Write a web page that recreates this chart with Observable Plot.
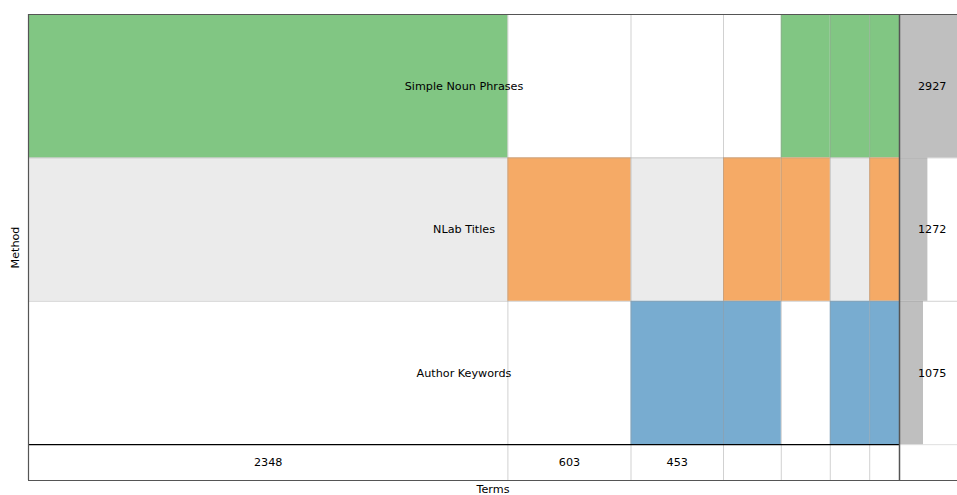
<!DOCTYPE html>
<html>
<head>
<meta charset="utf-8">
<script src="https://cdn.jsdelivr.net/npm/d3@7"></script>
<script src="https://cdn.jsdelivr.net/npm/@observablehq/plot@0.6"></script>
<style>
  html, body { margin: 0; padding: 0; background: white; overflow: hidden; }
  #chart svg { display: block; font-family: "DejaVu Sans", sans-serif; }
</style>
</head>
<body>
<div id="chart"></div>
<script>
// ---- data ----
const sets = ["Simple Noun Phrases", "NLab Titles", "Author Keywords"];
const setSizes = [2927, 1272, 1075];
const setColors = ["#81c683", "#f5aa66", "#78acd0"];
const rowBackgrounds = ["#ffffff", "#ebebeb", "#ffffff"];
const intersectionSizes = [2348, 603, 453, 283, 240, 193, 146];
// membership per intersection: [Simple Noun Phrases, NLab Titles, Author Keywords]
const membership = [
  [1, 0, 0],
  [0, 1, 0],
  [0, 0, 1],
  [0, 1, 1],
  [1, 1, 0],
  [1, 0, 1],
  [1, 1, 1]
];
const countLabels = ["2348", "603", "453", "", "", "", ""];

// ---- derived tables ----
const total = d3.sum(intersectionSizes);
const ends = Array.from(d3.cumsum(intersectionSizes));
const starts = ends.map((e, j) => e - intersectionSizes[j]);
const columns = intersectionSizes.map((v, j) => ({x1: starts[j], x2: ends[j], label: countLabels[j]}));
const rows = sets.map((s, i) => ({name: s, i, size: setSizes[i], bg: rowBackgrounds[i]}));
const cells = [];
membership.forEach((m, j) => m.forEach((on, i) => {
  if (on) cells.push({x1: starts[j], x2: ends[j], i, color: setColors[i]});
}));
const xMax = total * 929 / 871;          // main panel + visible part of set-size panel
const sizeScale = d3.scaleLinear().domain([0, d3.max(setSizes)]).range([total, total + 320]);
const countRowH = 0.25;
const yMax = sets.length + countRowH;

const chart = Plot.plot({
  width: 957,
  height: 495,
  marginLeft: 28,
  marginRight: 0,
  marginTop: 14,
  marginBottom: 15,
  style: {fontFamily: "DejaVu Sans, sans-serif", fontSize: "11.2px", color: "#000", background: "white"},
  x: {domain: [0, xMax], axis: null},
  y: {domain: [0, yMax], reverse: true, axis: null},
  marks: [
    // row backgrounds
    Plot.rect(rows, {x1: 0, x2: total, y1: d => d.i, y2: d => d.i + 1, fill: d => d.bg}),
    // set membership cells
    Plot.rect(cells, {x1: "x1", x2: "x2", y1: d => d.i, y2: d => d.i + 1, fill: "color"}),
    // set size bars
    Plot.rect(rows, {x1: total, x2: d => sizeScale(d.size), y1: d => d.i, y2: d => d.i + 1, fill: "#bfbfbf", clip: true}),
    // column separators
    Plot.ruleX(columns.slice(1), {x: "x1", y1: 0, y2: yMax, stroke: "#999", strokeOpacity: 0.45}),
    // row separators
    Plot.ruleY([1, 2], {y: d => d, x1: 0, x2: xMax, stroke: "#999", strokeOpacity: 0.45}),
    Plot.ruleY([sets.length], {x1: total, x2: xMax, stroke: "#999", strokeOpacity: 0.3}),
    // heavy lines
    Plot.ruleY([sets.length], {x1: 0, x2: total, stroke: "#000", strokeWidth: 1.3}),
    Plot.ruleX([total], {y1: 0, y2: yMax, stroke: "#555", strokeWidth: 1.5}),
    // frame
    Plot.ruleY([0, yMax], {x1: 0, x2: xMax, stroke: "#555", strokeWidth: 1.2}),
    Plot.ruleX([0], {y1: 0, y2: yMax, stroke: "#555", strokeWidth: 1.2}),
    // row labels
    Plot.text(rows, {x: total / 2, y: d => d.i + 0.5, text: "name", fill: "#000"}),
    // set size labels
    Plot.text(rows, {x: sizeScale(d3.max(setSizes) / 2), y: d => d.i + 0.5, text: d => String(d.size), fill: "#000"}),
    // intersection count labels
    Plot.text(columns, {x: d => (d.x1 + d.x2) / 2, y: sets.length + countRowH / 2, text: "label", fill: "#000"}),
    // axis titles
    Plot.text(["Method"], {frameAnchor: "left", dx: -13, rotate: -90, textAnchor: "middle", lineAnchor: "middle", fill: "#000"}),
    Plot.text(["Terms"], {frameAnchor: "bottom", dy: 8.5, textAnchor: "middle", lineAnchor: "middle", fill: "#000"})
  ]
});
document.getElementById("chart").append(chart);
</script>
</body>
</html>
